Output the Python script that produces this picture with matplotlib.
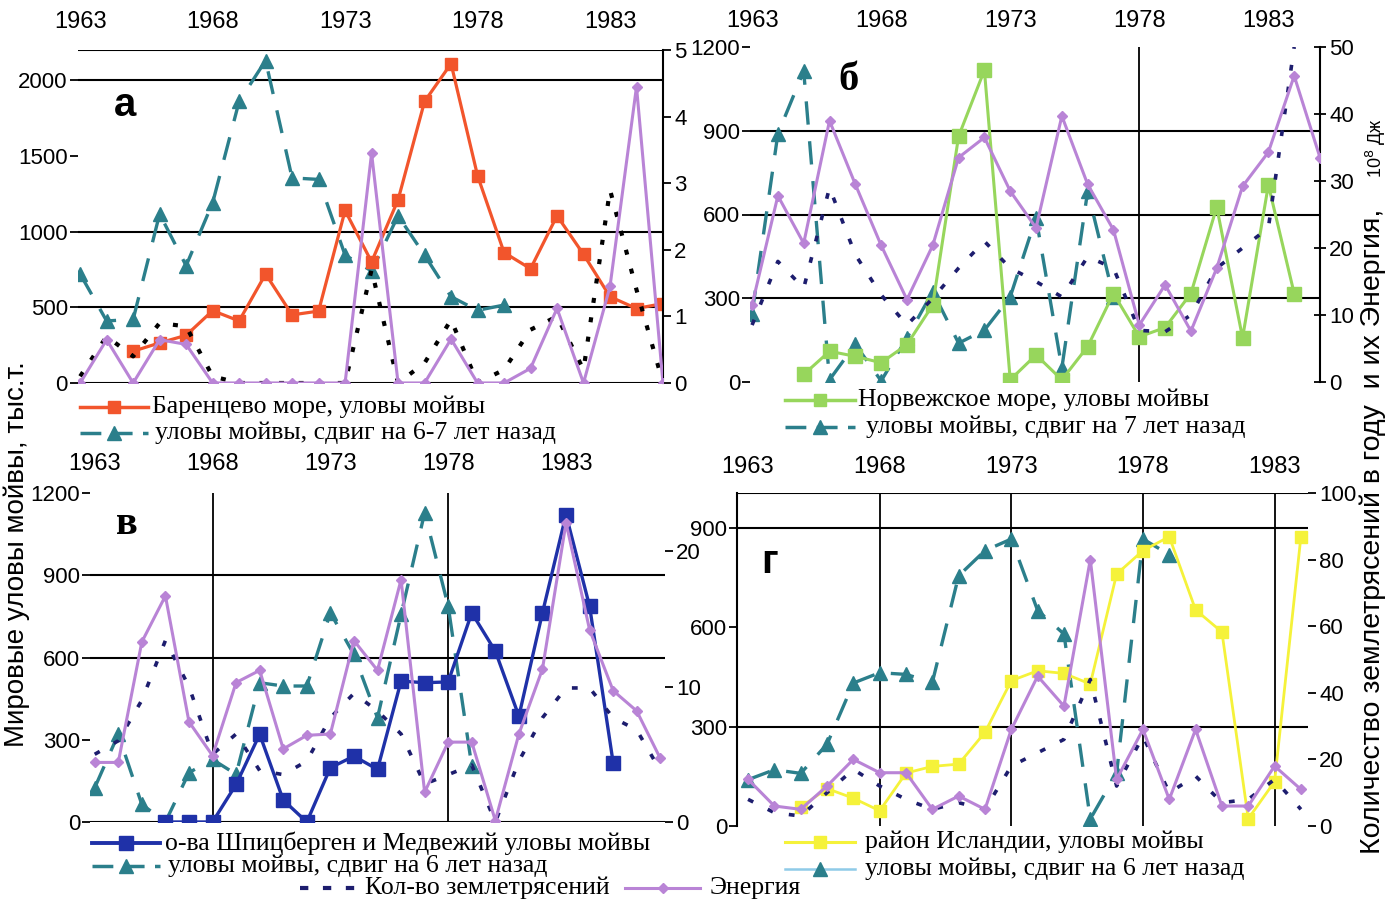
import matplotlib
matplotlib.use('Agg')
import matplotlib.pyplot as plt
from matplotlib.lines import Line2D
import numpy as np

plt.rcParams['font.family'] = ['Liberation Sans', 'DejaVu Sans']

W, H = 1387, 899
nan = np.nan

# ---------------- DATA ----------------
years_a = np.arange(1963, 1986)
barents = [nan, nan, 210, 265, 315, 478, 410, 720, 450, 475, 1140, 800, 1210, 1860, 2110,
           1370, 862, 755, 1105, 850, 570, 492, 525]
shift_a = [720, 410, 420, 1117, 775, 1190, 1860, 2130, 1355, 1345, 845, 740, 1105, 845, 570,
           480, 515, nan, nan, nan, nan, nan, nan]
energy_a = [0, 0.65, 0, 0.65, 0.58, 0, 0, 0, 0, 0, 0, 3.45, 0, 0, 0.66, 0, 0, 0.22, 1.12, 0,
            1.45, 4.45, 0]
quakes_a = [0.1, 0.7, 0.4, 0.9, 0.85, 0.1, 0, 0, 0, 0, 0, 1.7, 0, 0.3, 0.95, 0, 0.2, 0.8, 1.0,
            0.2, 2.9, 1.4, 0]

years_b = np.arange(1963, 1986)
norway = [nan, nan, 27, 110, 92, 69, 134, 276, 880, 1117, 8, 97, 8, 127, 317, 162, 195, 317,
          627, 158, 706, 317, nan]
shift_b = [245, 889, 1114, 8, 135, 4, 158, 324, 139, 186, 305, 589, 50, 684, 305,
           nan, nan, nan, nan, nan, nan, nan, nan]
energy_b = [11.5, 27.8, 20.7, 39, 29.5, 20.4, 12.3, 20.4, 33.5, 36.5, 28.5, 23, 39.7, 29.5,
            22.7, 8.5, 14.5, 7.6, 17, 29.2, 34.3, 45.7, 33.5]
quakes_b = [8.5, 18, 14, 29, 19, 13, 8.5, 12.5, 17, 21, 17, 15, 12.7, 18.7, 17, 7.7, 7.5, 10,
            17, 20, 23, 50, nan]

years_c = np.arange(1963, 1988)
spitz = [nan, nan, nan, 0, 0, 0, 137, 320, 80, 0, 198, 240, 192, 514, 508, 511, 763, 623, 386,
         763, 1121, 787, 216, nan, nan]
shift_c = [125, 320, 64, 0, 180, 228, 174, 508, 496, 496, 763, 611, 380, 757, 1128, 787, 204,
           nan, nan, nan, nan, nan, nan, nan, nan]
energy_c = [4.4, 4.4, 13.3, 16.7, 7.4, 4.9, 10.3, 11.2, 5.4, 6.4, 6.5, 13.4, 11.2, 17.9, 2.2,
            5.9, 5.9, 0.1, 6.5, 11.3, 22.1, 14.2, 9.7, 8.2, 4.7]
quakes_c = [5, 6, 9, 13.4, 10, 5, 6.5, 3.8, 3.5, 4.5, 7.7, 9.5, 8.2, 6.5, 2.8, 3.5, 4.2, 0,
            4.5, 7.7, 9.9, 9.9, 7.7, 6.8, 3.8]

years_d = np.arange(1963, 1985)
iceland = [nan, nan, 57, 113, 84, 46, 160, 180, 187, 283, 439, 469, 461, 429, 761, 832, 874,
           653, 586, 22, 134, 874]
shift_d = [140, 170, 159, 247, 432, 463, 458, 434, 756, 832, 867, 651, 580, 21, 160, 867, 820,
           nan, nan, nan, nan, nan]
energy_d = [14, 6, 5, 12, 20, 16, 16, 5, 9, 5, 29, 45, 36, 80, 14, 29, 8, 29, 6, 6, 18, 11]
quakes_d = [8, 4, 3, 10, 17, 12, 8, 5, 7, 5, 18, 22, 26, 44, 12, 27, 10, 15, 7, 8, 14, 5]

year_ticks = [1963, 1968, 1973, 1978, 1983]

# ---------------- STYLES ----------------
RED = '#f2552c'
TEAL = '#2b7f8b'
PURPLE = '#b984d6'
GREEN = '#97d65c'
BLUE = '#1f31a8'
YELLOW = '#f5f23a'
NAVY = '#1d1d6e'
LIGHTBLUE = '#8fcbe8'
TICK_FS = 16

fig = plt.figure(figsize=(W / 100, H / 100), dpi=100)


def rect(l, t, r, b):
    return [l / W, 1 - b / H, (r - l) / W, (b - t) / H]


def make_axes(r, xlim, ylim, ylim2, yticks, yticks2, xpad):
    ax = fig.add_axes(r)
    ax2 = ax.twinx()
    ax.set_xlim(*xlim)
    ax.set_ylim(*ylim)
    ax2.set_ylim(*ylim2)
    for a in (ax, ax2):
        for s in a.spines.values():
            s.set_visible(False)
        a.patch.set_alpha(0)
    ax.set_xticks(year_ticks)
    ax.set_xticklabels([str(y) for y in year_ticks])
    ax.tick_params(axis='x', top=True, bottom=False, labeltop=True, labelbottom=False,
                   length=0, pad=xpad, labelsize=TICK_FS + 1)
    ax.set_yticks(yticks)
    ax.tick_params(axis='y', left=True, length=6, width=1.3, pad=1, labelsize=TICK_FS)
    ax2.set_yticks(yticks2)
    ax2.tick_params(axis='y', right=True, length=6, width=1.3, pad=2, labelsize=TICK_FS)
    return ax, ax2


def hline(ax, v, lw=1.5):
    ax.axhline(v, color='black', lw=lw, zorder=1)


def vline(ax, v, lw=1.3):
    ax.axvline(v, color='black', lw=lw, zorder=1)


def plot_series(ax, x, y, kind):
    y = np.asarray(y, dtype=float)
    if kind == 'red':
        ax.plot(x, y, color=RED, lw=2.3, marker='s', ms=9, zorder=5)
    elif kind == 'teal':
        ax.plot(x, y, color=TEAL, lw=2.4, ls=(0, (7, 5)), marker='^', ms=10, zorder=4)
    elif kind == 'purple':
        ax.plot(x, y, color=PURPLE, lw=2.2, marker='D', ms=5.5, zorder=6)
    elif kind == 'black':
        ax.plot(x, y, color='black', lw=3, ls=(0, (1.2, 3.5)), zorder=3)
    elif kind == 'navy':
        ax.plot(x, y, color=NAVY, lw=2.6, ls=(0, (1.6, 4.5)), zorder=3)
    elif kind == 'green':
        ax.plot(x, y, color=GREEN, lw=2.2, marker='s', ms=9.5, zorder=5)
    elif kind == 'blue':
        ax.plot(x, y, color=BLUE, lw=2.4, marker='s', ms=10, zorder=5)
    elif kind == 'yellow':
        ax.plot(x, y, color=YELLOW, lw=2.0, marker='s', ms=9, zorder=5)


# ---------------- PANEL a ----------------
axA, axA2 = make_axes(rect(77.5, 50, 663, 383), (1962.9, 1985), (0, 2200), (0, 5),
                      [0, 500, 1000, 1500, 2000], [0, 1, 2, 3, 4, 5], 12)
for v in [0, 500, 1000, 2000, 2200]:
    hline(axA, v)
axA2.spines['right'].set_visible(True)
axA2.spines['right'].set_linewidth(1.5)
plot_series(axA, years_a, shift_a, 'teal')
plot_series(axA, years_a, barents, 'red')
plot_series(axA2, years_a, quakes_a, 'black')
plot_series(axA2, years_a, energy_a, 'purple')

# ---------------- PANEL б ----------------
axB, axB2 = make_axes(rect(750, 47, 1320, 382), (1962.92, 1985), (0, 1200), (0, 50),
                      [0, 300, 600, 900, 1200], [0, 10, 20, 30, 40, 50], 11)
for v in [300, 600, 900]:
    hline(axB, v)
vline(axB, 1978)
axB2.spines['right'].set_visible(True)
axB2.spines['right'].set_linewidth(1.5)
axB2.tick_params(axis='y', direction='inout', length=9)
plot_series(axB, years_b, shift_b, 'teal')
plot_series(axB, years_b, norway, 'green')
plot_series(axB2, years_b, quakes_b, 'navy')
plot_series(axB2, years_b, energy_b, 'purple')

# ---------------- PANEL в ----------------
axC, axC2 = make_axes(rect(90, 493, 665, 822), (1962.8, 1987.2), (0, 1200), (0, 24.3),
                      [0, 300, 600, 900, 1200], [0, 10, 20], 13)
for v in [0, 600, 900]:
    hline(axC, v)
vline(axC, 1968)
vline(axC, 1978)
plot_series(axC, years_c, shift_c, 'teal')
plot_series(axC, years_c, spitz, 'blue')
plot_series(axC2, years_c, quakes_c, 'navy')
plot_series(axC2, years_c, energy_c, 'purple')

# ---------------- PANEL г ----------------
axD, axD2 = make_axes(rect(737, 493, 1308, 826), (1962.58, 1984.27), (0, 1006), (0, 100),
                      [0, 300, 600, 900], [0, 20, 40, 60, 80, 100], 11)
for v in [300, 900, 1006]:
    hline(axD, v)
for v in [1968, 1973, 1978, 1983]:
    vline(axD, v)
axD.spines['left'].set_visible(True)
axD.spines['left'].set_linewidth(1.5)
plot_series(axD, years_d, shift_d, 'teal')
plot_series(axD, years_d, iceland, 'yellow')
plot_series(axD2, years_d, quakes_d, 'navy')
plot_series(axD2, years_d, energy_d, 'purple')

# ---------------- OVERLAY: legends, labels ----------------
lax = fig.add_axes([0, 0, 1, 1])
lax.set_xlim(0, W)
lax.set_ylim(H, 0)
lax.axis('off')

SERIF = ['Liberation Serif', 'DejaVu Serif']
LEG_FS = 18.5


def leg_item(x0, x1, y, kind, text, tx):
    xm = (x0 + x1) / 2
    if kind == 'red':
        lax.add_line(Line2D([x0, x1], [y, y], color=RED, lw=2.5))
        lax.add_line(Line2D([xm], [y], color=RED, marker='s', ms=9))
    elif kind == 'teal':
        lax.add_line(Line2D([x0, x1], [y, y], color=TEAL, lw=2.5, ls=(0, (6, 3))))
        lax.add_line(Line2D([xm], [y], color=TEAL, marker='^', ms=10))
    elif kind == 'tealg':
        lax.add_line(Line2D([x0, x1], [y, y], color=LIGHTBLUE, lw=1.8))
        lax.add_line(Line2D([xm], [y], color=TEAL, marker='^', ms=10))
    elif kind == 'green':
        lax.add_line(Line2D([x0, x1], [y, y], color=GREEN, lw=2.5))
        lax.add_line(Line2D([xm], [y], color=GREEN, marker='s', ms=9))
    elif kind == 'blue':
        lax.add_line(Line2D([x0, x1], [y, y], color=BLUE, lw=2.8))
        lax.add_line(Line2D([xm], [y], color=BLUE, marker='s', ms=10))
    elif kind == 'yellow':
        lax.add_line(Line2D([x0, x1], [y, y], color=YELLOW, lw=2.2))
        lax.add_line(Line2D([xm], [y], color=YELLOW, marker='s', ms=9))
    elif kind == 'navy':
        lax.add_line(Line2D([x0, x1], [y, y], color=NAVY, lw=3, ls=(0, (2, 3.5))))
    elif kind == 'purple':
        lax.add_line(Line2D([x0, x1], [y, y], color=PURPLE, lw=2.2))
        lax.add_line(Line2D([xm], [y], color=PURPLE, marker='D', ms=5))
    lax.text(tx, y, text, ha='left', va='center', fontsize=LEG_FS, family=SERIF)


leg_item(80, 148, 407, 'red', 'Баренцево море, уловы мойвы', 152)
leg_item(80, 148, 433, 'teal', 'уловы мойвы, сдвиг на 6-7 лет назад', 155)
leg_item(785, 855, 400, 'green', 'Норвежское море, уловы мойвы', 858)
leg_item(785, 855, 427, 'teal', 'уловы мойвы, сдвиг на 7 лет назад', 866)
leg_item(92, 160, 843, 'blue', 'о-ва Шпицберген и Медвежий уловы мойвы', 165)
leg_item(92, 160, 866, 'teal', 'уловы мойвы, сдвиг на 6 лет назад', 168)
leg_item(300, 355, 888, 'navy', 'Кол-во землетрясений', 365)
leg_item(625, 700, 888, 'purple', 'Энергия', 710)
leg_item(785, 855, 842, 'yellow', 'район Исландии, уловы мойвы', 865)
leg_item(785, 855, 869, 'tealg', 'уловы мойвы, сдвиг на 6 лет назад', 865)

# panel letters
lax.text(125, 105, 'а', ha='center', va='center', fontsize=29, fontweight='bold')
lax.text(848, 80, 'б', ha='center', va='center', fontsize=29, fontweight='bold', family=SERIF)
lax.text(127, 525, 'в', ha='center', va='center', fontsize=29, fontweight='bold', family=SERIF)
lax.text(770, 562, 'г', ha='center', va='center', fontsize=29, fontweight='bold')

# axis titles
lax.text(17, 747, 'Мировые уловы мойвы, тыс.т.', rotation=90, ha='center', va='bottom',
         fontsize=20)
lax.text(1373, 854, 'Количество землетрясений в году  и их Энергия,', rotation=90,
         ha='center', va='bottom', fontsize=20.5)
lax.text(1376, 148, '10$^8$ Дж', rotation=90, ha='center', va='center', fontsize=13)

fig.savefig('out.png', dpi=100)
